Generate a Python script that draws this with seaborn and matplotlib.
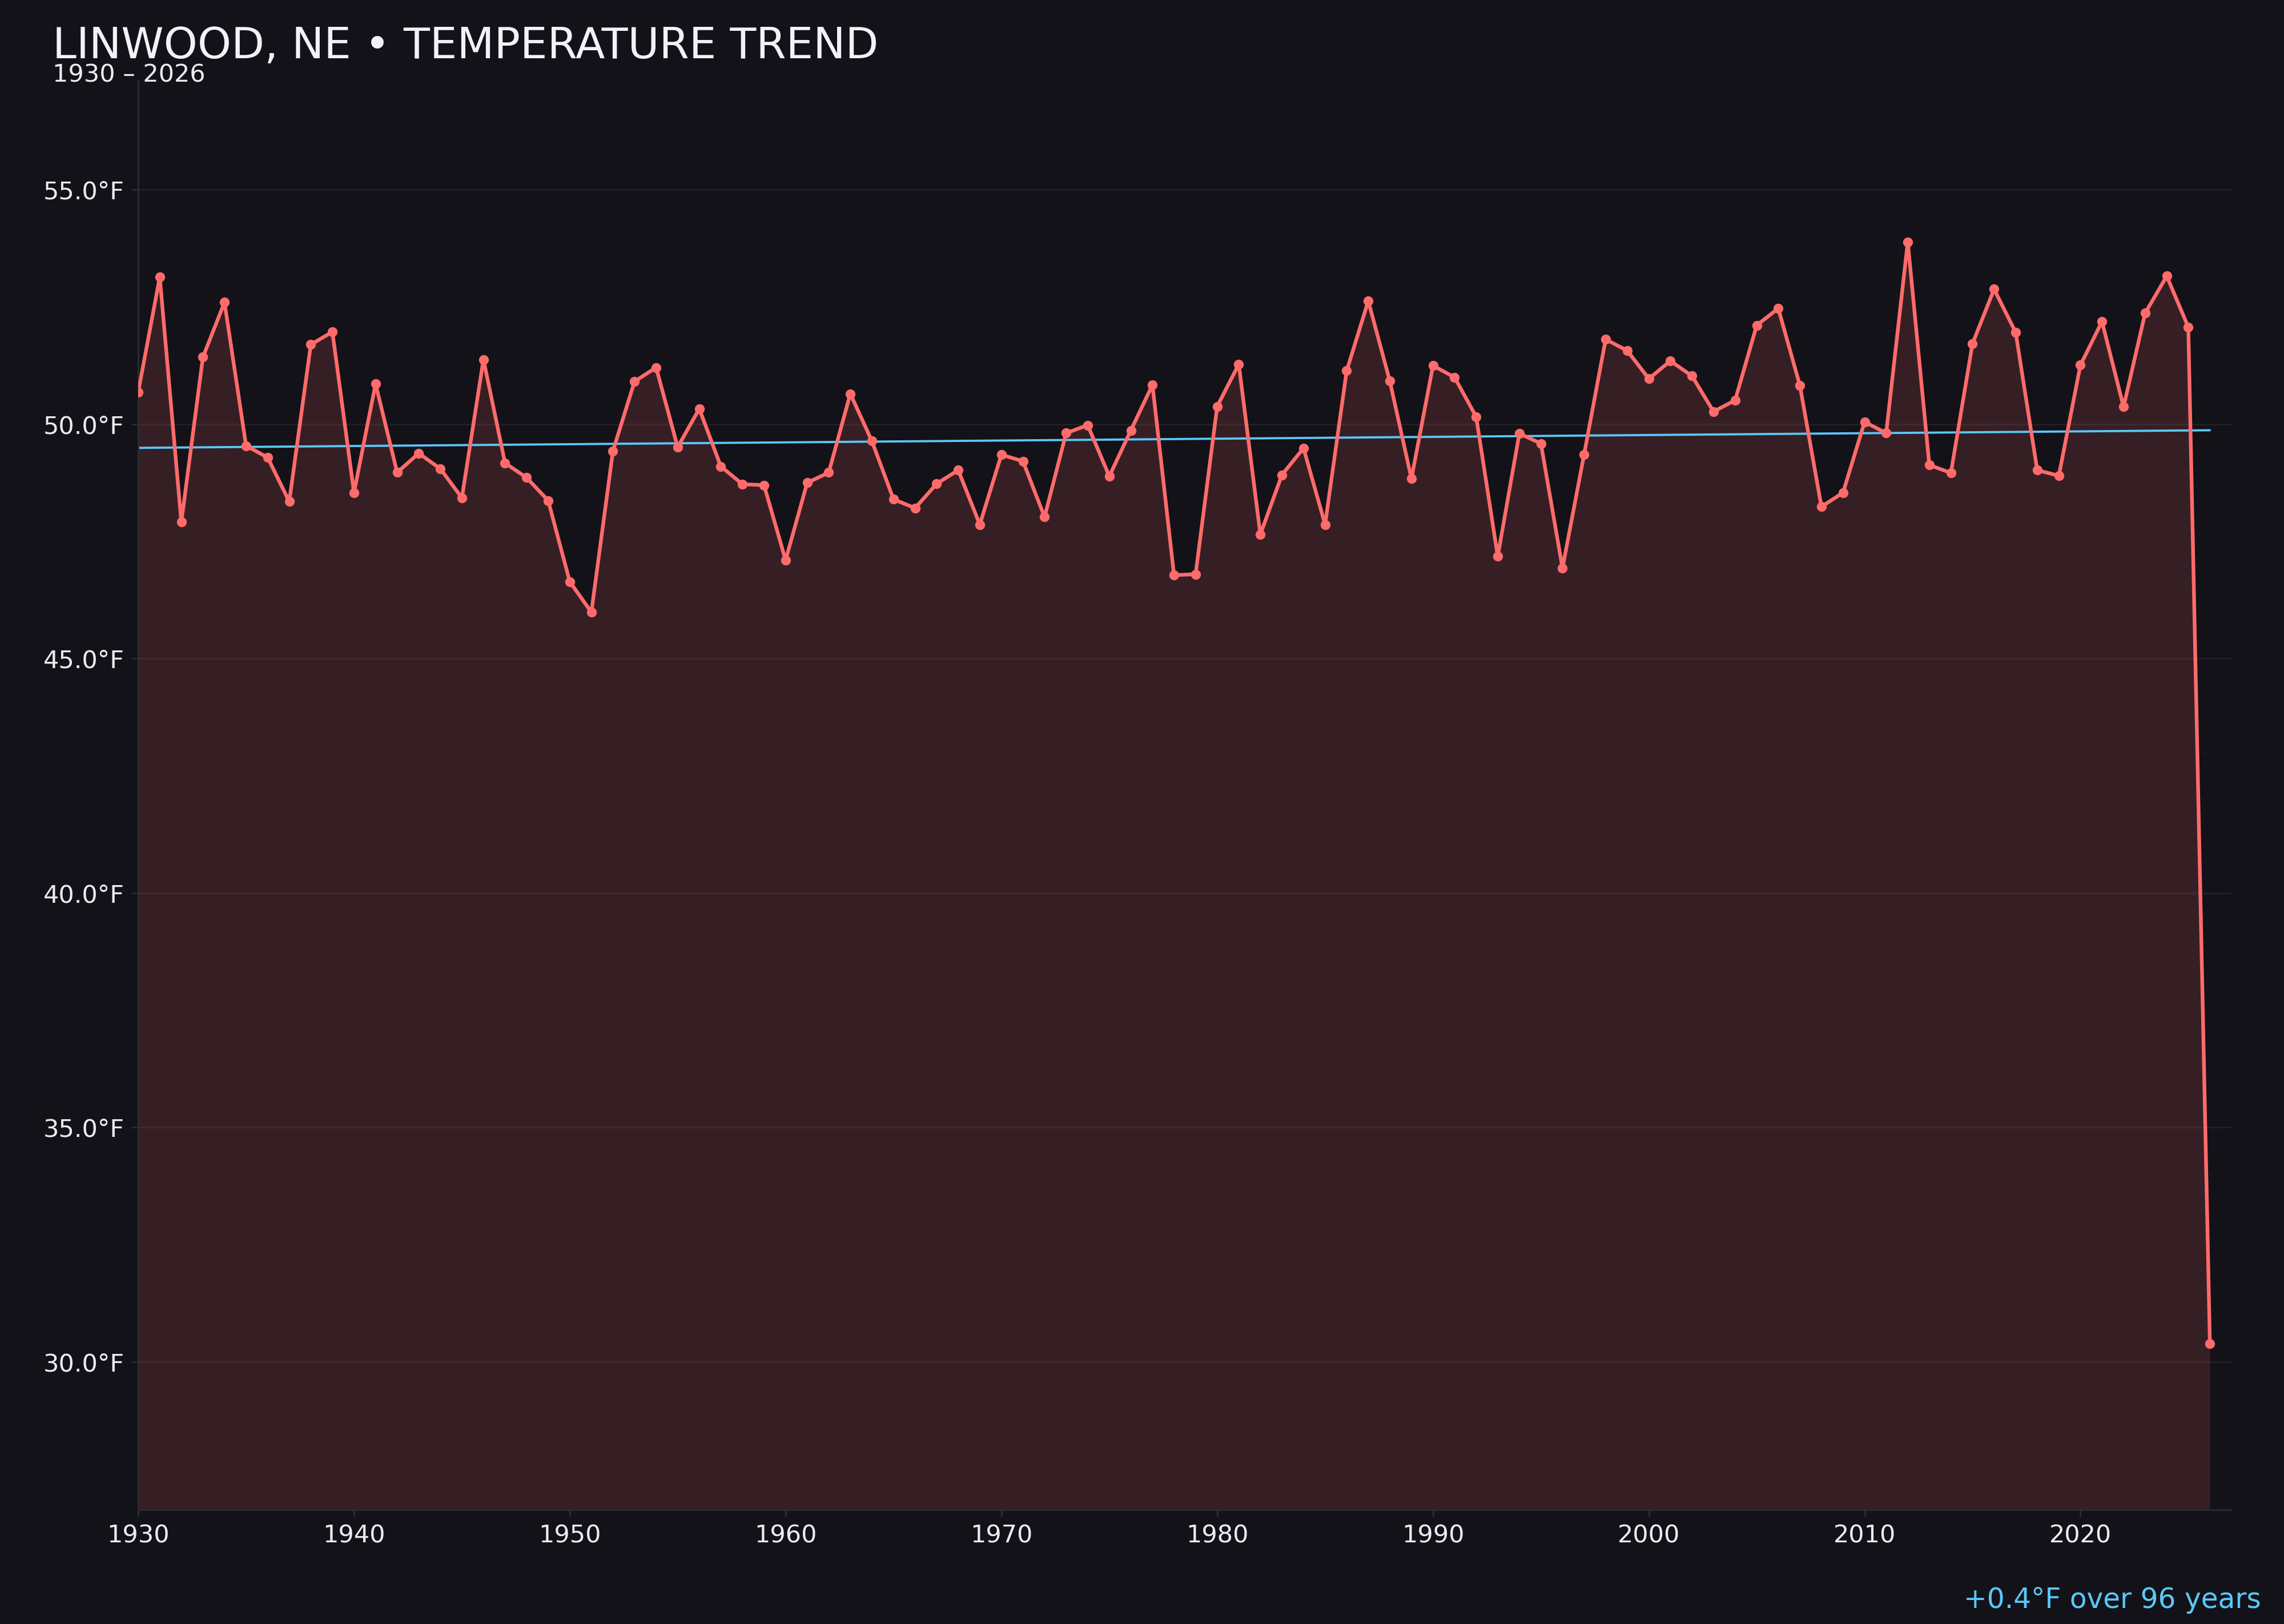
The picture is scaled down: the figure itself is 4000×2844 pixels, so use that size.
import numpy as np
import pandas as pd
import matplotlib
matplotlib.use("Agg")
import matplotlib.pyplot as plt
from matplotlib.ticker import MultipleLocator, FuncFormatter
import seaborn as sns

# ---------------- data ----------------
start_year = 1930
end_year = 2026
years = list(range(start_year, end_year + 1))
temps = [
    50.68, 53.14, 47.91, 51.43, 52.60, 49.54, 49.29, 48.35, 51.70, 51.97,  # 1930s
    48.54, 50.86, 48.97, 49.38, 49.05, 48.43, 51.38, 49.17, 48.86, 48.37,  # 1940s
    46.64, 45.99, 49.43, 50.91, 51.21, 49.51, 50.33, 49.10, 48.72, 48.70,  # 1950s
    47.10, 48.75, 48.97, 50.65, 49.64, 48.40, 48.21, 48.73, 49.02, 47.86,  # 1960s
    49.35, 49.21, 48.02, 49.81, 49.98, 48.89, 49.87, 50.84, 46.78, 46.80,  # 1970s
    50.38, 51.28, 47.65, 48.92, 49.49, 47.86, 51.14, 52.63, 50.92, 48.84,  # 1980s
    51.25, 51.00, 50.16, 47.18, 49.80, 49.59, 46.93, 49.35, 51.81, 51.57,  # 1990s
    50.97, 51.35, 51.03, 50.27, 50.51, 52.11, 52.47, 50.83, 48.24, 48.54,  # 2000s
    50.05, 49.81, 53.89, 49.13, 48.96, 51.72, 52.88, 51.96, 49.02, 48.90,  # 2010s
    51.26, 52.19, 50.37, 52.37, 53.16, 52.07, 30.39,                      # 2020s
]
xticks = [1930, 1940, 1950, 1960, 1970, 1980, 1990, 2000, 2010, 2020]
title = "LINWOOD, NE \u2022 TEMPERATURE TREND"
subtitle = f"{start_year} \u2013 {end_year}"

# ---------------- style ----------------
BG = "#131218"
LINE = "#ff6b6b"
TREND = "#5ac8fa"
TEXT = "#ecebf2"
SPINE = "#2c2c36"

sns.set_theme(style="dark", rc={
    "axes.facecolor": BG,
    "figure.facecolor": BG,
    "savefig.facecolor": BG,
    "axes.edgecolor": SPINE,
    "xtick.color": SPINE,
    "ytick.color": SPINE,
    "xtick.labelcolor": TEXT,
    "ytick.labelcolor": TEXT,
    "text.color": TEXT,
    "axes.labelcolor": TEXT,
    "xtick.bottom": True,
    "ytick.left": True,
})
plt.rcParams["font.family"] = ["DejaVu Sans"]

df = pd.DataFrame({"year": years, "temp": temps})

fig = plt.figure(figsize=(16, 11.376), dpi=250)
ax = fig.add_axes([0.0605, 0.0703, 0.9165, 0.8805])

tmin, tmax = min(temps), max(temps)
rng = tmax - tmin
ylo, yhi = tmin - 0.151 * rng, tmax + 0.147 * rng

# fill under the line
ax.fill_between(df["year"], df["temp"], ylo, color=LINE, alpha=0.15, lw=0, zorder=1)

# main line with markers
sns.lineplot(data=df, x="year", y="temp", ax=ax, color=LINE, lw=1.85,
             marker="o", markersize=5.0, markeredgewidth=0, zorder=3)

# linear trend
coef = np.polyfit(df["year"], df["temp"], 1)
trend_y = np.polyval(coef, df["year"])
ax.plot(df["year"], trend_y, color=TREND, lw=1.1, zorder=2)
span = end_year - start_year
delta = coef[0] * span

ax.set_xlim(start_year, end_year + 1)
ax.set_ylim(ylo, yhi)
ax.set_xticks(xticks)
ax.yaxis.set_major_locator(MultipleLocator(5))
ax.yaxis.set_minor_locator(MultipleLocator(1))
ax.yaxis.set_major_formatter(FuncFormatter(lambda v, p: f"{v:.1f}\u00b0F"))
ax.set_xlabel("")
ax.set_ylabel("")

ax.grid(False)
ax.grid(axis="y", which="major", color="#211f28", lw=0.85, zorder=0)
ax.grid(axis="y", which="minor", color="#17161c", lw=0.55, zorder=0)
ax.set_axisbelow(True)
ax.tick_params(axis="both", which="major", labelsize=12.4, length=3.5, width=0.8)
ax.tick_params(axis="y", which="minor", length=0)

for s in ["top", "right"]:
    ax.spines[s].set_visible(False)
for s in ["left", "bottom"]:
    ax.spines[s].set_color(SPINE)
    ax.spines[s].set_linewidth(0.8)

fig.text(0.023, 0.9641, title, fontsize=21.7, color="#f2f1f7", ha="left", va="baseline")
fig.text(0.023, 0.9494, subtitle, fontsize=12.4, color=TEXT, ha="left", va="baseline")
fig.text(0.990, 0.0099, f"{delta:+.1f}\u00b0F over {span} years", fontsize=14,
         color=TREND, ha="right", va="baseline")

fig.savefig("out.png", dpi=250, facecolor=BG)
